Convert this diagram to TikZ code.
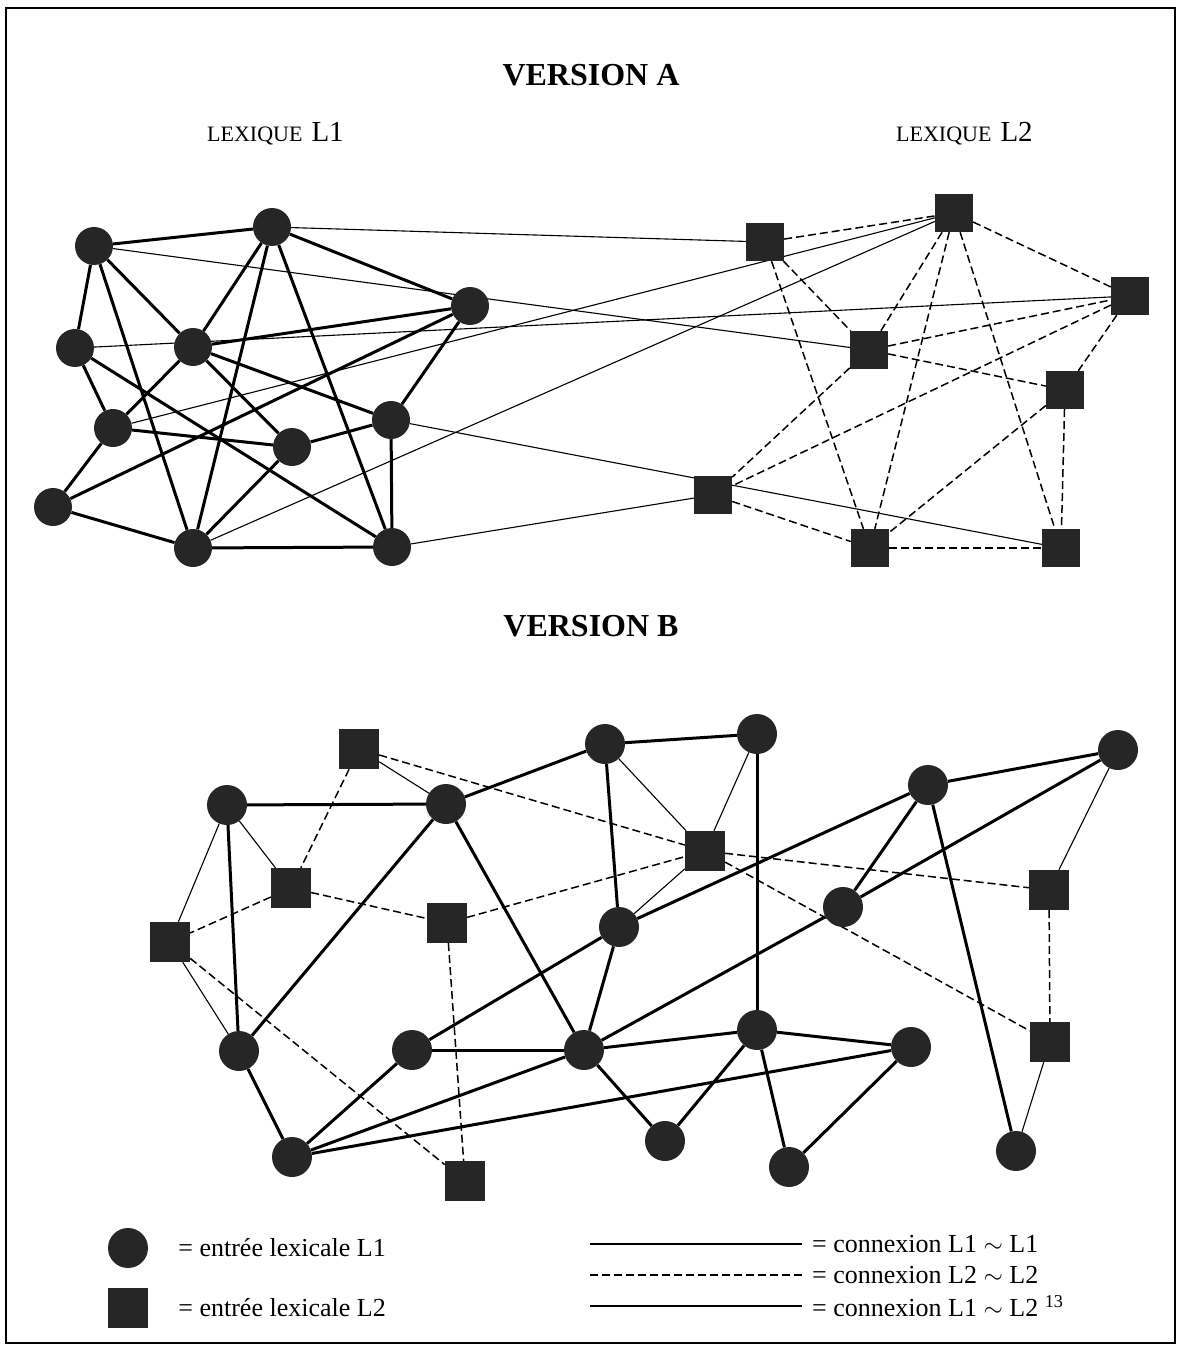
\documentclass[tikz,border=0pt]{standalone}
\usepackage{fontspec}
\setmainfont{Liberation Serif}
\usetikzlibrary{positioning,backgrounds}
\tikzstyle{lexical net}=[
    x=1pt,y=-1pt,
    every node/.style={inner sep=0pt},
]
\tikzstyle{entree L1}=[circle, fill=black!85, minimum size=38pt]
\tikzstyle{entree L2}=[rectangle, fill=black!85, minimum size=38pt]
\tikzstyle{big}=[minimum size=40pt]
\tikzstyle{conn L1}=[draw, line width=3pt]
\tikzstyle{conn L2}=[draw, line width=1.5pt, dash pattern=on 8pt off 4pt]
\tikzstyle{conn L12}=[draw, line width=1.1pt]
\tikzstyle{titre}=[font=\fontsize{32}{38}\selectfont\bfseries]
\tikzstyle{legende}=[font=\fontsize{26}{30}\selectfont, anchor=west]
\newcommand{\lexiquelabel}[1]{{\fontsize{22}{26}\selectfont LEXIQUE}\hspace{9pt}{\fontsize{29}{32}\selectfont #1}}

\begin{document}
\begin{tikzpicture}[lexical net]
    \useasboundingbox (0,0) rectangle (1180,1348);
    \draw[line width=1.2pt] (6,8) rectangle (1175,1343);

    % version A
    \node[titre] (titreA) at (591,75) {VERSION A};
    \node[anchor=base west] (lexA1) at (207,142) {\lexiquelabel{L1}};
    \node[anchor=base west] (lexA2) at (896,142) {\lexiquelabel{L2}};

    \node[entree L1] (a1) at (94,246) {};
    \node[entree L1] (a2) at (272,227) {};
    \node[entree L1] (a3) at (470,306) {};
    \node[entree L1] (a4) at (75,348) {};
    \node[entree L1] (a5) at (193,347) {};
    \node[entree L1] (a6) at (113,428) {};
    \node[entree L1] (a7) at (292,447) {};
    \node[entree L1] (a8) at (391,420) {};
    \node[entree L1] (a9) at (53,507) {};
    \node[entree L1] (a10) at (193,548) {};
    \node[entree L1] (a11) at (392,547) {};

    \node[entree L2] (b1) at (765,242) {};
    \node[entree L2] (b2) at (954,213) {};
    \node[entree L2] (b3) at (1130,296) {};
    \node[entree L2] (b4) at (869,350) {};
    \node[entree L2] (b5) at (1065,390) {};
    \node[entree L2] (b6) at (713,495) {};
    \node[entree L2] (b7) at (870,548) {};
    \node[entree L2] (b8) at (1061,548) {};

    \begin{scope}[on background layer]
    \path
        (a1) edge[conn L1] (a2)
        (a2) edge[conn L1] (a3)
        (a1) edge[conn L1] (a4)
        (a1) edge[conn L1] (a5)
        (a5) edge[conn L1] (a7)
        (a1) edge[conn L1] (a10)
        (a2) edge[conn L1] (a5)
        (a2) edge[conn L1] (a10)
        (a2) edge[conn L1] (a11)
        (a3) edge[conn L1] (a5)
        (a3) edge[conn L1] (a9)
        (a3) edge[conn L1] (a8)
        (a4) edge[conn L1] (a6)
        (a4) edge[conn L1] (a11)
        (a5) edge[conn L1] (a6)
        (a5) edge[conn L1] (a8)
        (a6) edge[conn L1] (a7)
        (a6) edge[conn L1] (a9)
        (a7) edge[conn L1] (a8)
        (a7) edge[conn L1] (a10)
        (a9) edge[conn L1] (a10)
        (a10) edge[conn L1] (a11)
        (a8) edge[conn L1] (a11)
        (a2) edge[conn L12] (b1)
        (a1) edge[conn L12] (b4)
        (a4) edge[conn L12] (b3)
        (a6) edge[conn L12] (b2)
        (a10) edge[conn L12] (b2)
        (a8) edge[conn L12] (b8)
        (a11) edge[conn L12] (b6)
        (b1) edge[conn L2] (b2)
        (b1) edge[conn L2] (b4)
        (b1) edge[conn L2] (b7)
        (b2) edge[conn L2] (b3)
        (b2) edge[conn L2] (b4)
        (b2) edge[conn L2] (b7)
        (b2) edge[conn L2] (b8)
        (b4) edge[conn L2] (b3)
        (b4) edge[conn L2] (b5)
        (b4) edge[conn L2] (b6)
        (b3) edge[conn L2] (b5)
        (b3) edge[conn L2] (b6)
        (b5) edge[conn L2] (b7)
        (b5) edge[conn L2] (b8)
        (b6) edge[conn L2] (b7)
        (b7) edge[conn L2] (b8)
    ;
    \end{scope}

    % version B
    \node[titre] (titreB) at (591,626) {VERSION B};

    \node[entree L1, big] (c1) at (227,805) {};
    \node[entree L1, big] (c2) at (446,804) {};
    \node[entree L1, big] (c3) at (605,744) {};
    \node[entree L1, big] (c4) at (619,927) {};
    \node[entree L1, big] (c5) at (239,1051) {};
    \node[entree L1, big] (c6) at (412,1050) {};
    \node[entree L1, big] (c7) at (584,1050) {};
    \node[entree L1, big] (c8) at (292,1157) {};
    \node[entree L1, big] (c9) at (757,734) {};
    \node[entree L1, big] (c10) at (928,785) {};
    \node[entree L1, big] (c11) at (1118,750) {};
    \node[entree L1, big] (c12) at (843,907) {};
    \node[entree L1, big] (c13) at (757,1030) {};
    \node[entree L1, big] (c14) at (911,1047) {};
    \node[entree L1, big] (c15) at (665,1141) {};
    \node[entree L1, big] (c16) at (789,1167) {};
    \node[entree L1, big] (c17) at (1016,1151) {};

    \node[entree L2, big] (d1) at (359,749) {};
    \node[entree L2, big] (d2) at (291,888) {};
    \node[entree L2, big] (d3) at (447,923) {};
    \node[entree L2, big] (d4) at (170,942) {};
    \node[entree L2, big] (d5) at (465,1181) {};
    \node[entree L2, big] (d6) at (705,851) {};
    \node[entree L2, big] (d7) at (1049,890) {};
    \node[entree L2, big] (d8) at (1050,1042) {};

    \begin{scope}[on background layer]
    \path
        (c1) edge[conn L1] (c2)
        (c1) edge[conn L1] (c5)
        (c2) edge[conn L1] (c3)
        (c2) edge[conn L1] (c5)
        (c2) edge[conn L1] (c7)
        (c3) edge[conn L1] (c4)
        (c3) edge[conn L1] (c9)
        (c4) edge[conn L1] (c7)
        (c4) edge[conn L1] (c6)
        (c4) edge[conn L1] (c10)
        (c5) edge[conn L1] (c8)
        (c6) edge[conn L1] (c7)
        (c6) edge[conn L1] (c8)
        (c8) edge[conn L1] (c7)
        (c8) edge[conn L1] (c14)
        (c7) edge[conn L1] (c12)
        (c7) edge[conn L1] (c13)
        (c7) edge[conn L1] (c15)
        (c9) edge[conn L1] (c13)
        (c10) edge[conn L1] (c11)
        (c10) edge[conn L1] (c12)
        (c11) edge[conn L1] (c12)
        (c10) edge[conn L1] (c17)
        (c13) edge[conn L1] (c14)
        (c13) edge[conn L1] (c15)
        (c13) edge[conn L1] (c16)
        (c14) edge[conn L1] (c16)
        (d1) edge[conn L12] (c2)
        (c1) edge[conn L12] (d2)
        (c1) edge[conn L12] (d4)
        (d4) edge[conn L12] (c5)
        (c3) edge[conn L12] (d6)
        (c9) edge[conn L12] (d6)
        (d6) edge[conn L12] (c4)
        (c11) edge[conn L12] (d7)
        (d8) edge[conn L12] (c17)
        (d1) edge[conn L2] (d2)
        (d1) edge[conn L2] (d6)
        (d2) edge[conn L2] (d4)
        (d2) edge[conn L2] (d3)
        (d3) edge[conn L2] (d6)
        (d3) edge[conn L2] (d5)
        (d4) edge[conn L2] (d5)
        (d6) edge[conn L2] (d7)
        (d6) edge[conn L2] (d8)
        (d7) edge[conn L2] (d8)
    ;
    \end{scope}

    % legende
    \node[entree L1, big] (legL1) at (128,1248) {};
    \node[entree L2, big] (legL2) at (128,1308) {};
    \node[legende, right=30pt of legL1] (txtL1) {= entrée lexicale L1};
    \node[legende, right=30pt of legL2] (txtL2) {= entrée lexicale L2};

    \coordinate (lgA) at (590,1244);
    \coordinate (lgA') at (802,1244);
    \coordinate (lgB) at (590,1275);
    \coordinate (lgB') at (802,1275);
    \coordinate (lgC) at (590,1306);
    \coordinate (lgC') at (802,1306);
    \path
        (lgA) edge[conn L1, line width=2.4pt] (lgA')
        (lgB) edge[conn L2, line width=1.1pt] (lgB')
        (lgC) edge[conn L12, line width=1.3pt] (lgC')
    ;
    \node[legende, right=10pt of lgA'] (txtA) {= connexion L1 $\sim$ L1};
    \node[legende, right=10pt of lgB'] (txtB) {= connexion L2 $\sim$ L2};
    \node[legende, right=10pt of lgC'] (txtC) {= connexion L1 $\sim$ L2 \textsuperscript{13}};
\end{tikzpicture}
\end{document}
